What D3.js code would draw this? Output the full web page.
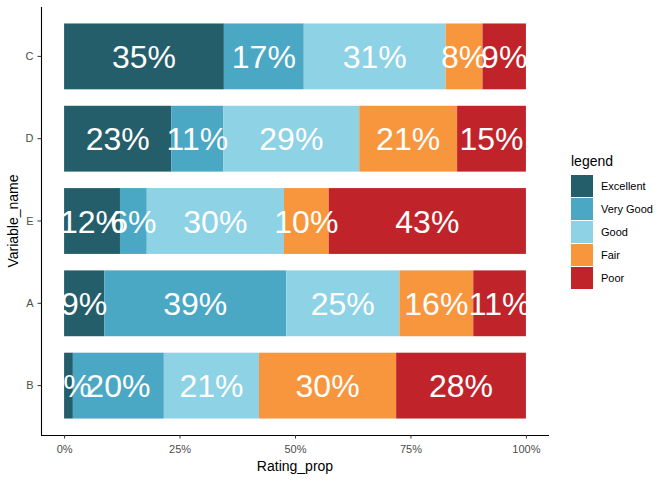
<!DOCTYPE html>
<html>
<head>
<meta charset="utf-8">
<script src="https://cdn.jsdelivr.net/npm/d3@7"></script>
<style>
  body { margin: 0; background: #fff; }
  svg { display: block; font-family: "Liberation Sans", Arial, sans-serif; }
</style>
</head>
<body>
<div id="chart"></div>
<script>
// categories, top to bottom
const variables = ['C', 'D', 'E', 'A', 'B'];
const ratings = ['Excellent', 'Very Good', 'Good', 'Fair', 'Poor'];
const ratingColors = ['#255e6b', '#4aa8c4', '#8dd2e5', '#f8963e', '#c0242a'];

// share of each rating per variable (percent)
const excellent = [34.6, 23.2, 12.1, 8.7, 1.9];
const veryGood  = [17.3, 11.3, 5.8, 39.4, 19.7];
const good      = [30.7, 29.4, 29.7, 24.5, 20.6];
const fair      = [8.0, 21.2, 9.7, 16.0, 29.7];
const poor      = [9.4, 14.9, 42.7, 11.4, 28.1];

const xTicks = [0, 0.25, 0.5, 0.75, 1];

const series = [excellent, veryGood, good, fair, poor];

const width = 672, height = 480;
const margin = { top: 7, right: 123, bottom: 45, left: 41 };

const svg = d3.select('#chart').append('svg')
    .attr('width', width).attr('height', height);

const innerW = width - margin.left - margin.right;
const innerH = height - margin.top - margin.bottom;

const g = svg.append('g').attr('transform', `translate(${margin.left},${margin.top})`);

// ggplot style expansion: 5% on the continuous axis, 0.6 units on the discrete one
const x = d3.scaleLinear().domain([-0.05, 1.05]).range([0, innerW]);
const y = d3.scaleBand().domain(variables).range([0, innerH]).paddingInner(0.2).paddingOuter(0.2);

// build stacked rows
const rows = variables.map((v, i) => {
    let cum = 0;
    return ratings.map((r, j) => {
        const p = series[j][i] / 100;
        const seg = { variable: v, rating: r, color: ratingColors[j], x0: cum, x1: cum + p, p };
        cum += p;
        return seg;
    });
});
const segs = rows.flat();

g.selectAll('.seg')
    .data(segs)
    .join('rect')
        .attr('class', 'seg')
        .attr('x', d => x(d.x0))
        .attr('y', d => y(d.variable))
        .attr('width', d => x(d.x1) - x(d.x0))
        .attr('height', y.bandwidth())
        .attr('fill', d => d.color);

g.selectAll('.lbl')
    .data(segs)
    .join('text')
        .attr('class', 'lbl')
        .attr('x', d => x((d.x0 + d.x1) / 2))
        .attr('y', d => y(d.variable) + y.bandwidth() / 2)
        .attr('dy', '0.36em')
        .attr('text-anchor', 'middle')
        .attr('fill', '#ffffff')
        .attr('font-size', '32px')
        .text(d => Math.round(d.p * 100) + '%');

// axes
const xAxis = g.append('g')
    .attr('transform', `translate(0,${innerH})`)
    .call(d3.axisBottom(x).tickValues(xTicks).tickFormat(d3.format('.0%')).tickSize(3.5).tickPadding(6.5));
const yAxis = g.append('g')
    .call(d3.axisLeft(y).tickSize(3.5).tickPadding(4));

[xAxis, yAxis].forEach(a => {
    a.select('.domain').attr('stroke', '#000').attr('stroke-width', 1.1);
    a.selectAll('.tick line').attr('stroke', '#333');
    a.selectAll('.tick text').attr('fill', '#4d4d4d').attr('font-size', '11px')
        .attr('font-family', '"Liberation Sans", Arial, sans-serif');
});
xAxis.select('.domain').attr('d', `M0,0.5H${innerW}`);
yAxis.select('.domain').attr('d', `M0.5,0V${innerH}`);

svg.append('text')
    .attr('x', margin.left + innerW / 2)
    .attr('y', 471)
    .attr('text-anchor', 'middle')
    .attr('font-size', '14px')
    .attr('fill', '#000')
    .text('Rating_prop');

svg.append('text')
    .attr('transform', `translate(18,${margin.top + innerH / 2}) rotate(-90)`)
    .attr('text-anchor', 'middle')
    .attr('font-size', '14px')
    .attr('fill', '#000')
    .text('Variable_name');

// legend
const legend = svg.append('g').attr('transform', 'translate(571,175)');
legend.append('text')
    .attr('x', 0).attr('y', -9)
    .attr('font-size', '14px')
    .attr('fill', '#000')
    .text('legend');

const keyH = 23;
const items = legend.selectAll('.key')
    .data(ratings)
    .join('g')
        .attr('class', 'key')
        .attr('transform', (d, i) => `translate(0,${i * keyH})`);
items.append('rect')
    .attr('width', 22).attr('height', keyH - 1)
    .attr('fill', (d, i) => ratingColors[i]);
items.append('text')
    .attr('x', 30).attr('y', keyH / 2)
    .attr('dy', '0.35em')
    .attr('font-size', '11px')
    .attr('fill', '#000')
    .text(d => d);
</script>
</body>
</html>
